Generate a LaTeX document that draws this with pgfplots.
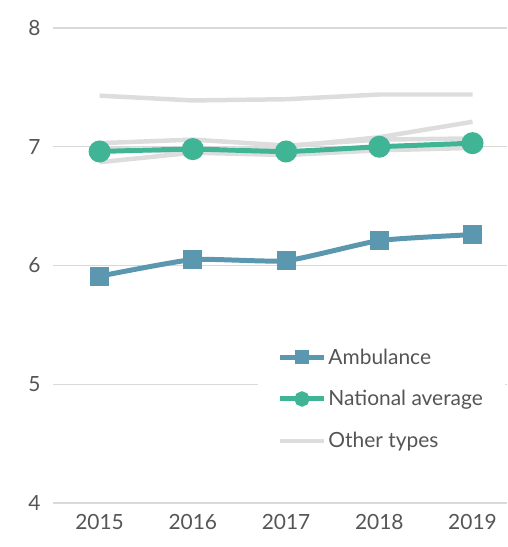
\documentclass[border=0pt]{standalone}
\usepackage{pgfplots}
\pgfplotsset{compat=1.18}
\usepackage{fontspec}
\setmainfont{Lato}
\definecolor{amb}{HTML}{5B97AE}
\definecolor{nat}{HTML}{3FB596}
\definecolor{oth}{HTML}{DDDDDD}
\definecolor{gridc}{HTML}{D9D9D9}
\definecolor{txt}{HTML}{555555}
\begin{document}
\begin{tikzpicture}
\begin{axis}[
  scale only axis,
  width=454bp, height=475bp,
  xmin=2014.5, xmax=2019.37,
  ymin=4, ymax=8,
  xtick={2015,2016,2017,2018,2019},
  ytick={4,5,6,7,8},
  xticklabel style={/pgf/number format/1000 sep={}},
  /pgf/number format/assume math mode=true,
  tick label style={font=\fontsize{21}{24}\selectfont, text=txt},
  yticklabel style={xshift=-9bp},
  xticklabel style={yshift=-8bp},
  axis line style={draw=none},
  major tick length=0pt,
  xmajorgrids=false, ymajorgrids=true,
  y grid style={draw=gridc, line width=1.2pt},
  legend style={draw=none, fill=white, at={(0.45,0.338)}, anchor=north west,
    font=\fontsize{21}{24}\selectfont, text=txt, row sep=21bp,
    inner xsep=20bp, inner ysep=4bp, /tikz/column 2/.style={column sep=0pt}},
  legend cell align=left,
  legend image code/.code={
    \draw[#1] (0bp,0bp) -- (44bp,0bp);
    \draw[#1, mark options={scale=0.6}, mark repeat=2, mark phase=2] plot coordinates {(0bp,0bp) (22bp,0bp) (44bp,0bp)};
  },
]
\addplot[oth, line width=4.5pt, forget plot] coordinates {(2015,7.43) (2016,7.39) (2017,7.40) (2018,7.44) (2019,7.44)};
\addplot[oth, line width=4.5pt, forget plot] coordinates {(2015,6.87) (2016,6.95) (2017,7.00) (2018,7.08) (2019,7.21)};
\addplot[oth, line width=4.5pt, forget plot] coordinates {(2015,7.03) (2016,7.06) (2017,7.01) (2018,7.06) (2019,7.07)};
\addplot[oth, line width=4.5pt, forget plot] coordinates {(2015,6.99) (2016,6.95) (2017,6.93) (2018,6.97) (2019,6.99)};
\addplot[amb, line width=5pt, smooth, tension=0.3, mark=square*, mark size=7bp] coordinates {(2015,5.91) (2016,6.05) (2017,6.04) (2018,6.21) (2019,6.26)};
\addlegendentry{Ambulance}
\addplot[nat, line width=5pt, smooth, tension=0.3, mark=*, mark size=8.5bp] coordinates {(2015,6.96) (2016,6.98) (2017,6.96) (2018,7.00) (2019,7.03)};
\addlegendentry{National average}
\addlegendimage{oth, line width=4.5pt}
\addlegendentry{Other types}
\end{axis}
\pgfresetboundingbox
\path ([xshift=-53bp,yshift=-44bp]current axis.south west) rectangle ([yshift=28bp]current axis.north east);
\end{tikzpicture}
\end{document}
